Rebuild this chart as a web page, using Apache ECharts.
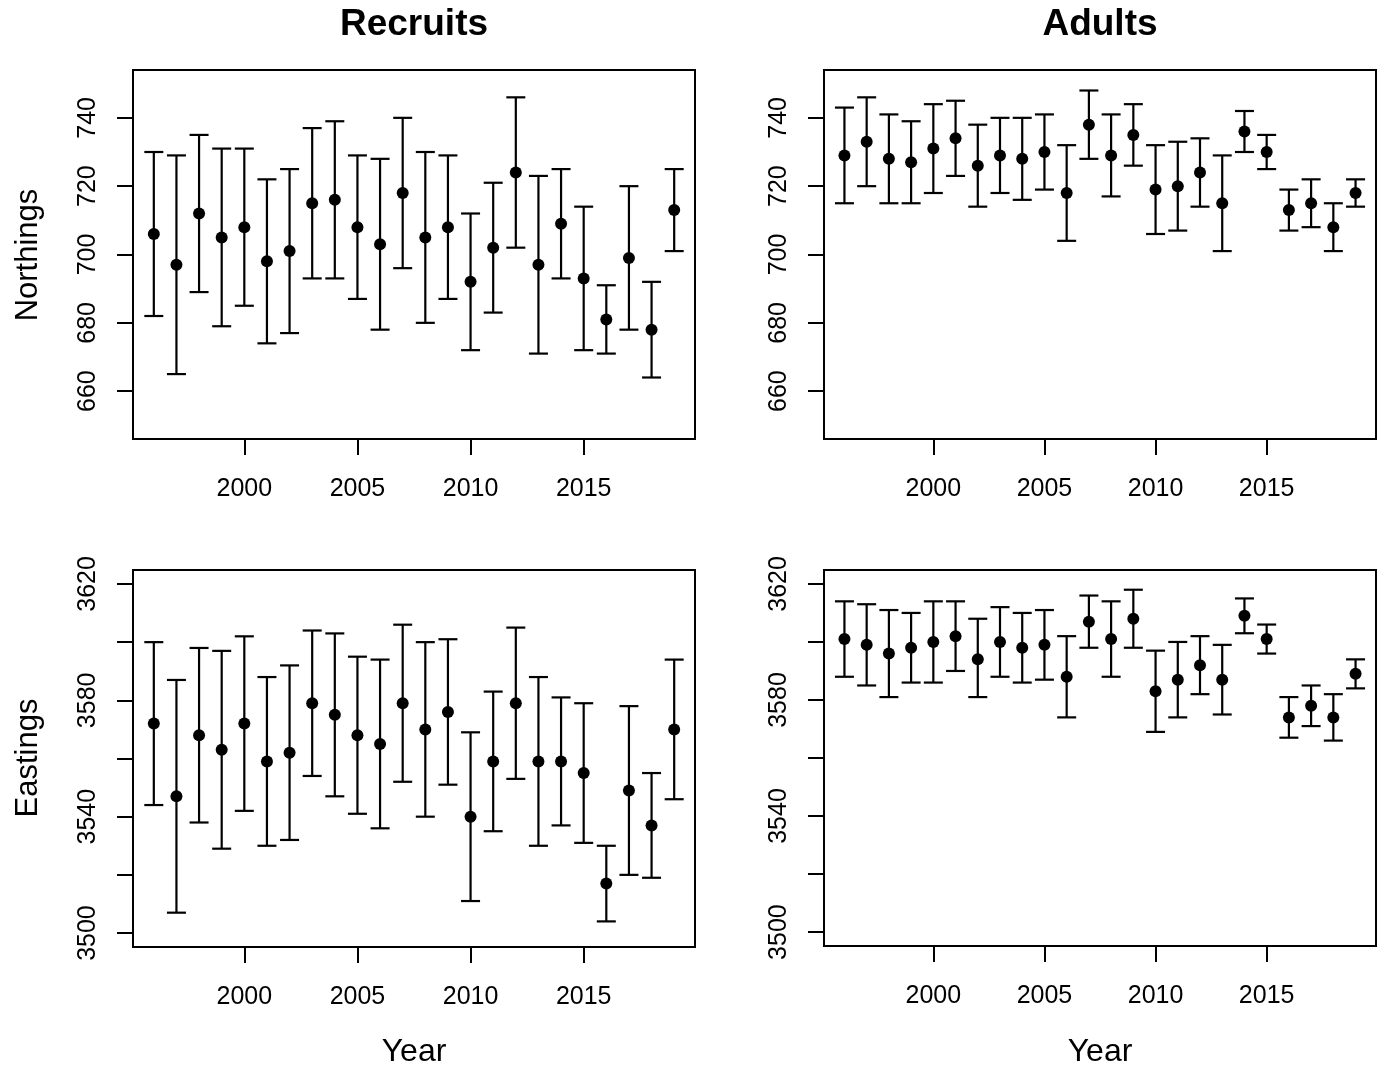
<!DOCTYPE html>
<html>
<head>
<meta charset="utf-8">
<title>Recruits and Adults: mean position by year</title>
<script src="https://cdn.jsdelivr.net/npm/echarts@6/dist/echarts.min.js"></script>
<style>
  html, body { margin: 0; padding: 0; background: #ffffff; }
  #chart { width: 1380px; height: 1068px; }
</style>
</head>
<body>
<div id="chart"></div>
<script>
// Survey years
const years = [1996, 1997, 1998, 1999, 2000, 2001, 2002, 2003, 2004, 2005, 2006, 2007,
               2008, 2009, 2010, 2011, 2012, 2013, 2014, 2015, 2016, 2017, 2018, 2019];

// Recruits, northings: mean with lower / upper bounds
const recNorthMean = [706, 697, 712, 705, 708, 698, 701, 715, 716, 708, 703, 718,
                      705, 708, 692, 702, 724, 697, 709, 693, 681, 699, 678, 713];
const recNorthLo   = [682, 665, 689, 679, 685, 674, 677, 693, 693, 687, 678, 696,
                      680, 687, 672, 683, 702, 671, 693, 672, 671, 678, 664, 701];
const recNorthHi   = [730, 729, 735, 731, 731, 722, 725, 737, 739, 729, 728, 740,
                      730, 729, 712, 721, 746, 723, 725, 714, 691, 720, 692, 725];

// Adults, northings
const adNorthMean = [729, 733, 728, 727, 731, 734, 726, 729, 728, 730, 718, 738,
                     729, 735, 719, 720, 724, 715, 736, 730, 713, 715, 708, 718];
const adNorthLo   = [715, 720, 715, 715, 718, 723, 714, 718, 716, 719, 704, 728,
                     717, 726, 706, 707, 714, 701, 730, 725, 707, 708, 701, 714];
const adNorthHi   = [743, 746, 741, 739, 744, 745, 738, 740, 740, 741, 732, 748,
                     741, 744, 732, 733, 734, 729, 742, 735, 719, 722, 715, 722];

// Recruits, eastings
const recEastMean = [3572, 3547, 3568, 3563, 3572, 3559, 3562, 3579, 3575, 3568, 3565, 3579,
                     3570, 3576, 3540, 3559, 3579, 3559, 3559, 3555, 3517, 3549, 3537, 3570];
const recEastLo   = [3544, 3507, 3538, 3529, 3542, 3530, 3532, 3554, 3547, 3541, 3536, 3552,
                     3540, 3551, 3511, 3535, 3553, 3530, 3537, 3531, 3504, 3520, 3519, 3546];
const recEastHi   = [3600, 3587, 3598, 3597, 3602, 3588, 3592, 3604, 3603, 3595, 3594, 3606,
                     3600, 3601, 3569, 3583, 3605, 3588, 3581, 3579, 3530, 3578, 3555, 3594];

// Adults, eastings
const adEastMean = [3601, 3599, 3596, 3598, 3600, 3602, 3594, 3600, 3598, 3599, 3588, 3607,
                    3601, 3608, 3583, 3587, 3592, 3587, 3609, 3601, 3574, 3578, 3574, 3589];
const adEastLo   = [3588, 3585, 3581, 3586, 3586, 3590, 3581, 3588, 3586, 3587, 3574, 3598,
                    3588, 3598, 3569, 3574, 3582, 3575, 3603, 3596, 3567, 3571, 3566, 3584];
const adEastHi   = [3614, 3613, 3611, 3610, 3614, 3614, 3608, 3612, 3610, 3611, 3602, 3616,
                    3614, 3618, 3597, 3600, 3602, 3599, 3615, 3606, 3581, 3585, 3582, 3594];

// Axis tick positions and labels
const yearTicks      = [2000, 2005, 2010, 2015];
const northTicks     = [660, 680, 700, 720, 740];
const northLabels    = [660, 680, 700, 720, 740];
const eastTicks      = [3500, 3520, 3540, 3560, 3580, 3600, 3620];
const eastLabels     = [3500, 3540, 3580, 3620];

const FONT = "'Liberation Sans', Arial, Helvetica, sans-serif";
const INK = '#000000';

const panels = [
  { mean: recNorthMean, lo: recNorthLo, hi: recNorthHi, ticks: northTicks, labels: northLabels,
    ymin: 646, ymax: 754, grid: { left: 133, top: 70, width: 562, height: 369 } },
  { mean: adNorthMean, lo: adNorthLo, hi: adNorthHi, ticks: northTicks, labels: northLabels,
    ymin: 646, ymax: 754, grid: { left: 824, top: 70, width: 552, height: 369 } },
  { mean: recEastMean, lo: recEastLo, hi: recEastHi, ticks: eastTicks, labels: eastLabels,
    ymin: 3495.2, ymax: 3624.8, grid: { left: 133, top: 570, width: 562, height: 377 } },
  { mean: adEastMean, lo: adEastLo, hi: adEastHi, ticks: eastTicks, labels: eastLabels,
    ymin: 3495.2, ymax: 3624.8, grid: { left: 824, top: 570, width: 552, height: 376 } }
];

const plain = v => String(Math.round(v));

const grids = [], xAxes = [], yAxes = [], series = [];

panels.forEach((p, i) => {
  grids.push(Object.assign({ show: true, borderColor: INK, borderWidth: 2,
                             backgroundColor: 'transparent' }, p.grid));
  xAxes.push({
    type: 'value', gridIndex: i, min: 1995.08, max: 2019.92,
    axisLine: { show: false },
    splitLine: { show: false },
    axisTick: { show: true, customValues: yearTicks, length: 16, inside: false,
                lineStyle: { color: INK, width: 2 } },
    axisLabel: { customValues: yearTicks, formatter: plain, margin: 38, color: INK,
                 fontSize: 25, fontFamily: FONT }
  });
  yAxes.push({
    type: 'value', gridIndex: i, min: p.ymin, max: p.ymax,
    axisLine: { show: false },
    splitLine: { show: false },
    axisTick: { show: true, customValues: p.ticks, length: 16, inside: false,
                lineStyle: { color: INK, width: 2 } },
    axisLabel: { customValues: p.labels, formatter: plain, rotate: 90, margin: 32, color: INK,
                 fontSize: 25, fontFamily: FONT }
  });

  // interval bars with end caps
  series.push({
    type: 'custom', xAxisIndex: i, yAxisIndex: i, silent: true,
    data: years.map((y, k) => [y, p.lo[k], p.hi[k]]),
    encode: { x: 0, y: [1, 2] },
    renderItem: (params, api) => {
      const x = api.value(0);
      const a = api.coord([x, api.value(1)]);
      const b = api.coord([x, api.value(2)]);
      const w = 9.5;
      const st = { stroke: INK, lineWidth: 2.2 };
      return {
        type: 'group',
        children: [
          { type: 'line', shape: { x1: a[0], y1: a[1], x2: b[0], y2: b[1] }, style: st },
          { type: 'line', shape: { x1: a[0] - w, y1: a[1], x2: a[0] + w, y2: a[1] }, style: st },
          { type: 'line', shape: { x1: b[0] - w, y1: b[1], x2: b[0] + w, y2: b[1] }, style: st }
        ]
      };
    },
    z: 2
  });

  // mean points
  series.push({
    type: 'scatter', xAxisIndex: i, yAxisIndex: i, silent: true,
    data: years.map((y, k) => [y, p.mean[k]]),
    symbol: 'circle', symbolSize: 12,
    itemStyle: { color: INK, opacity: 1 },
    z: 3
  });
});

const textStyle = (size, weight) => ({ fill: INK, font: `${weight || 'normal'} ${size}px ${FONT}`,
                                       textAlign: 'center', textVerticalAlign: 'middle' });

const chart = echarts.init(document.getElementById('chart'), null, { renderer: 'canvas' });
chart.setOption({
  animation: false,
  backgroundColor: '#ffffff',
  grid: grids,
  xAxis: xAxes,
  yAxis: yAxes,
  series: series,
  graphic: [
    { type: 'text', x: 414, y: 25, style: Object.assign({ text: 'Recruits' }, textStyle(37, 'bold')) },
    { type: 'text', x: 1100, y: 25, style: Object.assign({ text: 'Adults' }, textStyle(37, 'bold')) },
    { type: 'text', x: 28, y: 255, rotation: Math.PI / 2,
      style: Object.assign({ text: 'Northings' }, textStyle(31)) },
    { type: 'text', x: 28, y: 758, rotation: Math.PI / 2,
      style: Object.assign({ text: 'Eastings' }, textStyle(31)) },
    { type: 'text', x: 414, y: 1052, style: Object.assign({ text: 'Year' }, textStyle(32)) },
    { type: 'text', x: 1100, y: 1052, style: Object.assign({ text: 'Year' }, textStyle(32)) }
  ]
});
</script>
</body>
</html>
